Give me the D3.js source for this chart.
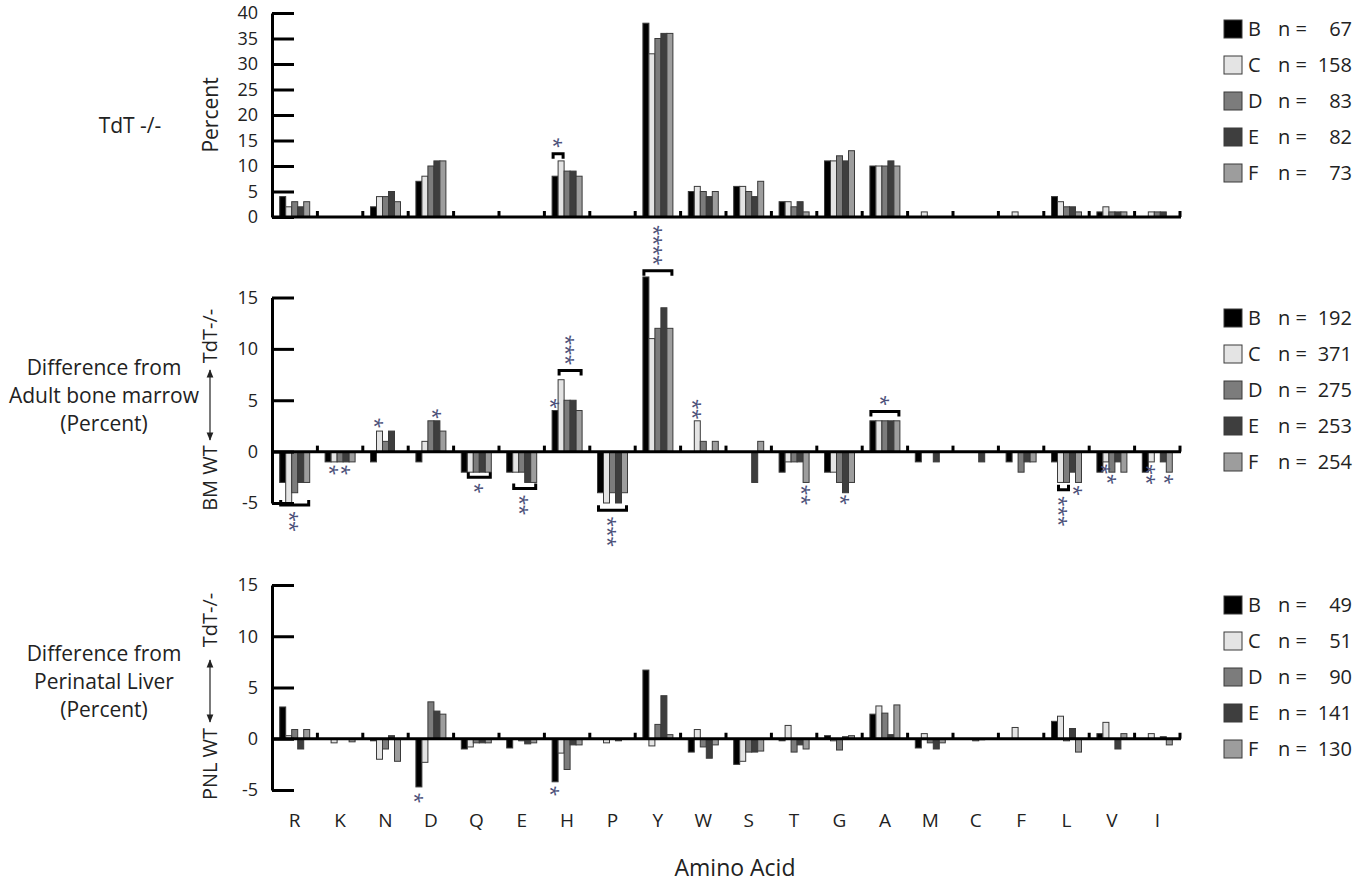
<!DOCTYPE html>
<html>
<head>
<meta charset="utf-8">
<script src="https://cdn.jsdelivr.net/npm/d3@7"></script>
<style>
  body { margin: 0; background: #fff; }
  svg { font-family: "Open Sans", sans-serif; }
</style>
</head>
<body>
<svg id="chart" width="1371" height="888"></svg>
<script>
// categories and series
var aminoAcids = ["R","K","N","D","Q","E","H","P","Y","W","S","T","G","A","M","C","F","L","V","I"];
var groups = ["B","C","D","E","F"];
var groupColors = ["#000000","#e4e4e4","#7c7c7c","#3e3e3e","#9d9d9d"];

// TdT -/- percent
var tdtB = [4,0,2,7,0,0,8,0,38,5,6,3,11,10,0,0,0,4,1,0];
var tdtC = [2,0,4,8,0,0,11,0,32,6,6,3,11,10,1,0,1,3,2,1];
var tdtD = [3,0,4,10,0,0,9,0,35,5,5,2,12,10,0,0,0,2,1,1];
var tdtE = [2,0,5,11,0,0,9,0,36,4,4,3,11,11,0,0,0,2,1,1];
var tdtF = [3,0,3,11,0,0,8,0,36,5,7,1,13,10,0,0,0,1,1,0];
var tdtN = [67,158,83,82,73];
var tdtTicks = [0,5,10,15,20,25,30,35,40];

// difference from adult bone marrow
var bmB = [-3,-1,-1,-1,-2,-2,4,-4,17,0,0,-2,-2,3,-1,0,-1,-1,-2,-2];
var bmC = [-5,-1,2,1,-2,-2,7,-5,11,3,0,-1,-2,3,0,0,0,-3,-1,-1];
var bmD = [-4,-1,1,3,-2,-2,5,-4,12,1,0,-1,-3,3,0,0,-2,-3,-2,0];
var bmE = [-3,-1,2,3,-2,-3,5,-5,14,0,-3,-1,-4,3,-1,-1,-1,-2,-1,-1];
var bmF = [-3,-1,0,2,-2,-3,4,-4,12,1,1,-3,-3,3,0,0,-1,-3,-2,-2];
var bmN = [192,371,275,253,254];

// difference from perinatal liver
var pnlB = [3.1,0,-0.2,-4.7,-1.0,-0.9,-4.2,0,6.7,-1.3,-2.5,-0.2,0.3,2.4,-0.9,0,0,1.7,0.5,0];
var pnlC = [0.3,-0.4,-2.0,-2.3,-0.8,0,-1.4,-0.4,-0.7,0.9,-2.2,1.3,-0.2,3.2,0.5,0,1.1,2.2,1.6,0.5];
var pnlD = [0.9,0,-1.0,3.6,-0.4,-0.2,-3.0,0,1.4,-0.8,-1.3,-1.3,-1.1,2.5,-0.4,-0.2,0,-0.2,0,0];
var pnlE = [-1.0,0,0.3,2.7,-0.4,-0.5,-0.6,-0.2,4.2,-1.9,-1.3,-0.6,0.2,0.4,-1.0,-0.1,0,1.0,-1.0,0.2];
var pnlF = [0.9,-0.3,-2.2,2.4,-0.4,-0.4,-0.6,0,0.4,-0.6,-1.2,-1.0,0.3,3.3,-0.4,0,0,-1.3,0.5,-0.6];
var pnlN = [49,51,90,141,130];
var diffTicks = [-5,0,5,10,15];

// significance marks: v = where bracket / first star sits (data units)
var tdtNotes = [
  {cat:"H", s0:"B", s1:"C", v:12.4, stars:1, up:true}
];
var bmNotes = [
  {cat:"R", s0:"B", s1:"F", v:-5.2, stars:2, up:false},
  {cat:"K", s0:"C", v:-1.3, stars:1, up:false},
  {cat:"K", s0:"E", v:-1.3, stars:1, up:false},
  {cat:"N", s0:"C", v:2.3, stars:1, up:true},
  {cat:"D", s0:"E", v:3.2, stars:1, up:true},
  {cat:"Q", s0:"C", s1:"F", v:-2.5, stars:1, up:false},
  {cat:"E", s0:"C", s1:"F", v:-3.6, stars:2, up:false},
  {cat:"H", s0:"B", v:4.2, stars:1, up:true},
  {cat:"H", s0:"C", s1:"F", v:7.9, stars:3, up:true},
  {cat:"P", s0:"B", s1:"F", v:-5.7, stars:3, up:false},
  {cat:"Y", s0:"B", s1:"F", v:17.6, stars:4, up:true},
  {cat:"W", s0:"C", v:3.2, stars:2, up:true},
  {cat:"T", s0:"F", v:-3.2, stars:2, up:false},
  {cat:"G", s0:"E", v:-4.2, stars:1, up:false},
  {cat:"A", s0:"B", s1:"F", v:3.9, stars:1, up:true},
  {cat:"L", s0:"C", s1:"D", v:-3.7, stars:3, up:false},
  {cat:"L", s0:"F", v:-3.3, stars:1, up:false},
  {cat:"V", s0:"C", v:-1.2, stars:1, up:false},
  {cat:"V", s0:"D", v:-2.2, stars:1, up:false},
  {cat:"I", s0:"C", v:-1.2, stars:2, up:false},
  {cat:"I", s0:"F", v:-2.2, stars:1, up:false}
];
var pnlNotes = [
  {cat:"D", s0:"B", v:-5.3, stars:1, up:false},
  {cat:"H", s0:"B", v:-4.6, stars:1, up:false}
];

var panels = [
  {values:[tdtB,tdtC,tdtD,tdtE,tdtF], n:tdtN, domain:[0,40], range:[217,13], ticks:tdtTicks, legendY:29, notes:tdtNotes},
  {values:[bmB,bmC,bmD,bmE,bmF], n:bmN, domain:[-5,15], range:[503,297.5], ticks:diffTicks, legendY:318, notes:bmNotes},
  {values:[pnlB,pnlC,pnlD,pnlE,pnlF], n:pnlN, domain:[-5,15], range:[790,585], ticks:diffTicks, legendY:605, notes:pnlNotes}
];

var svg = d3.select("#chart");
var starColor = "#4b5079";

var x0 = d3.scaleBand().domain(aminoAcids).range([272,1180]);
var bw = x0.bandwidth();
var x1 = d3.scaleBand().domain(groups).range([(bw-30)/2,(bw+30)/2]);

// arrow heads
var defs = svg.append("defs");
defs.append("marker").attr("id","arr").attr("viewBox","0 0 10 10")
    .attr("refX",9).attr("refY",5).attr("markerWidth",7).attr("markerHeight",7)
    .attr("orient","auto-start-reverse")
  .append("path").attr("d","M0,1 L10,5 L0,9 z").attr("fill","#222");

var drawPanel = function(p)
{
  var y = d3.scaleLinear().domain(p.domain).range(p.range);
  var g = svg.append("g");

  groups.forEach(function(s,i){
    var rows = p.values[i].map(function(v,j){ return {cat:aminoAcids[j], v:v}; })
                          .filter(function(d){ return d.v !== 0; });
    g.selectAll(null).data(rows).enter().append("rect")
      .attr("x", function(d){ return x0(d.cat) + x1(s); })
      .attr("width", x1.bandwidth())
      .attr("y", function(d){ return y(Math.max(0,d.v)); })
      .attr("height", function(d){ return Math.abs(y(d.v) - y(0)); })
      .attr("fill", groupColors[i])
      .attr("stroke", "#3a3a3a")
      .attr("stroke-width", 1);
  });

  // baseline
  g.append("line")
    .attr("x1", 272).attr("x2", 1181)
    .attr("y1", y(0)).attr("y2", y(0))
    .attr("stroke", "#000").attr("stroke-width", 3);

  // category boundary ticks pointing up
  g.selectAll(null).data(aminoAcids).enter().append("line")
    .attr("x1", function(d){ return x0(d) + bw; })
    .attr("x2", function(d){ return x0(d) + bw; })
    .attr("y1", y(0)).attr("y2", y(0) - 6)
    .attr("stroke", "#000").attr("stroke-width", 3);

  // y axis
  var yAxis = d3.axisLeft(y)
    .tickValues(p.ticks)
    .tickSizeInner(-22).tickSizeOuter(0)
    .tickPadding(14)
    .tickFormat(function(d){ return String(d); });
  var ax = g.append("g").attr("transform","translate(272,0)").call(yAxis);
  ax.attr("font-family", null).attr("font-size", null);
  ax.select(".domain").attr("stroke","#000").attr("stroke-width",3);
  ax.selectAll(".tick line").attr("stroke","#000").attr("stroke-width",3);
  ax.selectAll(".tick text").attr("font-size", 18).attr("fill","#222");

  // legend
  var lg = g.selectAll(null).data(groups).enter().append("g")
    .attr("transform", function(d,i){ return "translate(0," + (p.legendY + i*36) + ")"; });
  lg.append("rect").attr("x",1224).attr("y",-9).attr("width",18).attr("height",18)
    .attr("fill", function(d,i){ return groupColors[i]; })
    .attr("stroke","#3a3a3a").attr("stroke-width",1);
  lg.append("text").attr("x",1248).attr("dy","0.36em").attr("font-size",20).attr("fill","#222")
    .text(function(d){ return d; });
  lg.append("text").attr("x",1278).attr("dy","0.36em").attr("font-size",20).attr("fill","#222")
    .text("n =");
  lg.append("text").attr("x",1352).attr("dy","0.36em").attr("font-size",20).attr("fill","#222")
    .attr("text-anchor","end")
    .text(function(d,i){ return p.n[i]; });

  // significance brackets and stars
  p.notes.forEach(function(n){
    var dir = n.up ? -1 : 1;
    var base = y(n.v);
    var xa = x0(n.cat) + x1(n.s0);
    var cx;
    if (n.s1) {
      var xb = x0(n.cat) + x1(n.s1) + x1.bandwidth();
      g.append("path")
        .attr("d", "M" + (xa+1) + "," + (base - dir*5) + "V" + base + "H" + (xb-1) + "V" + (base - dir*5))
        .attr("fill","none").attr("stroke","#000").attr("stroke-width",3);
      cx = (xa + xb) / 2;
      base = base + dir*11;
    } else {
      cx = xa + x1.bandwidth()/2;
      base = base + dir*5;
    }
    // a stack of stars is one text turned on its side
    var cy = base + dir*(n.stars - 1)*5;
    g.append("text")
      .attr("transform", "translate(" + cx + "," + cy + ") rotate(90)")
      .attr("dy", "0.56em")
      .attr("text-anchor","middle")
      .attr("letter-spacing", n.stars > 1 ? -1 : 0)
      .attr("font-size", 20).attr("fill", starColor)
      .text(d3.range(n.stars).map(function(){ return "*"; }).join(""));
  });
};

panels.forEach(drawPanel);

// category labels
svg.append("g").selectAll(null).data(aminoAcids).enter().append("text")
  .attr("x", function(d){ return x0(d) + bw/2; })
  .attr("y", 820).attr("dy","0.36em")
  .attr("text-anchor","middle").attr("font-size",19).attr("fill","#222")
  .text(function(d){ return d; });

svg.append("text").attr("x",735).attr("y",868).attr("dy","0.36em")
  .attr("text-anchor","middle").attr("font-size",23).attr("fill","#222")
  .text("Amino Acid");

// left side titles
svg.append("text").attr("x",130).attr("y",125).attr("dy","0.36em")
  .attr("text-anchor","middle").attr("font-size",21).attr("fill","#222").text("TdT -/-");

svg.append("text").attr("transform","translate(210,115) rotate(-90)").attr("dy","0.36em")
  .attr("text-anchor","middle").attr("font-size",21).attr("fill","#222").text("Percent");

var sideTitle = function(lines, yc)
{
  svg.append("g").selectAll(null).data(lines).enter().append("text")
    .attr("x",104).attr("y", function(d,i){ return yc + (i-1)*28; }).attr("dy","0.36em")
    .attr("text-anchor","middle").attr("font-size",21).attr("fill","#222")
    .text(function(d){ return d; });
};
sideTitle(["Difference from","Adult bone marrow","(Percent)"], 395);
sideTitle(["Difference from","Perinatal Liver","(Percent)"], 681);

var arrowLabel = function(low, high, yLow, yA, yB, yHigh)
{
  svg.append("text").attr("transform","translate(210," + yLow + ") rotate(-90)").attr("dy","0.36em")
    .attr("text-anchor","middle").attr("font-size",20).attr("fill","#222").text(low);
  svg.append("line").attr("x1",210).attr("x2",210).attr("y1",yA).attr("y2",yB)
    .attr("stroke","#222").attr("stroke-width",1.2)
    .attr("marker-start","url(#arr)").attr("marker-end","url(#arr)");
  svg.append("text").attr("transform","translate(210," + yHigh + ") rotate(-90)").attr("dy","0.36em")
    .attr("text-anchor","middle").attr("font-size",20).attr("fill","#222").text(high);
};
arrowLabel("BM WT", "TdT-/-", 478, 440, 370, 336);
arrowLabel("PNL WT", "TdT-/-", 764, 722, 660, 620);
</script>
</body>
</html>
